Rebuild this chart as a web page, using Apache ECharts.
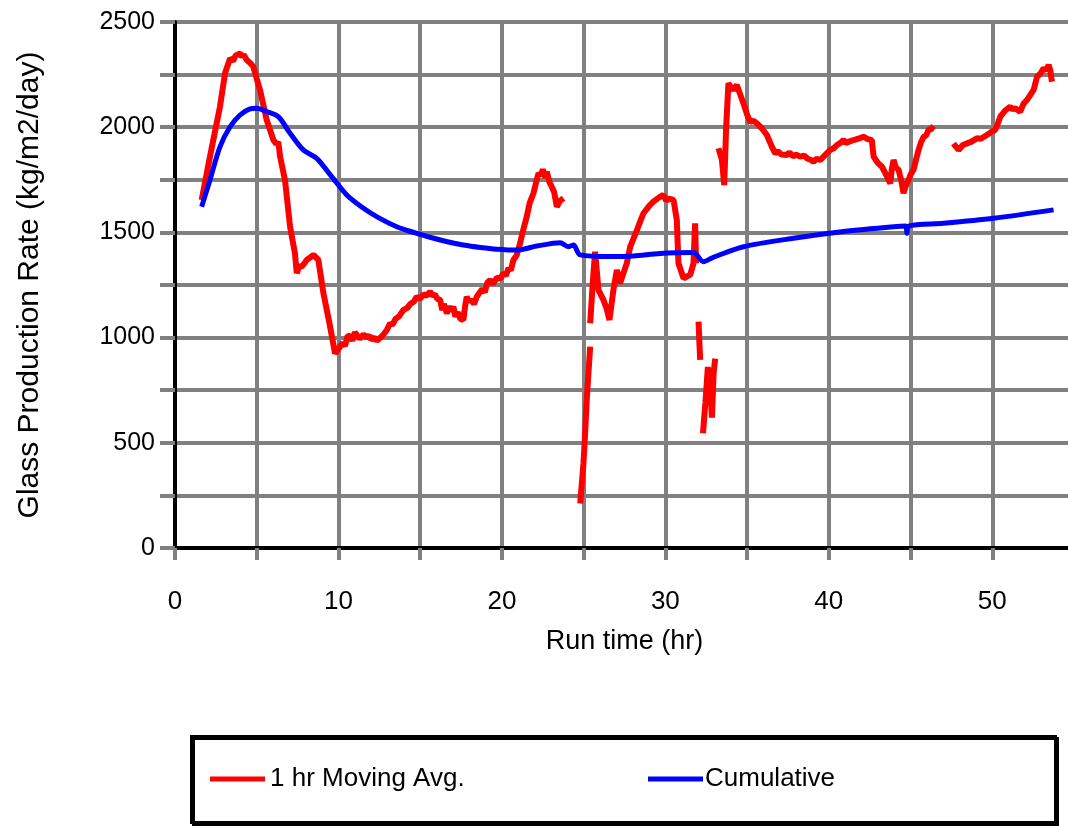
<!DOCTYPE html>
<html>
<head>
<meta charset="utf-8">
<script src="https://cdn.jsdelivr.net/npm/echarts@6/dist/echarts.min.js"></script>
<style>
  html, body { margin: 0; padding: 0; background: #ffffff; overflow: hidden; }
  #chart { width: 1068px; height: 826px; }
</style>
</head>
<body>
<div id="chart"></div>
<script>
// Run time (hr) vs glass production rate (kg/m2/day)
const xTickLabels = [0, 10, 20, 30, 40, 50];
const yTickLabels = [0, 500, 1000, 1500, 2000, 2500];

// 1 hr moving average, recorded in separate stretches
const movingAvgA = [
  [1.63, 1654], [2.14, 1860], [2.75, 2097], [3.06, 2256], [3.37, 2327], [3.55, 2315],
  [3.7, 2340], [3.98, 2351], [4.1, 2335], [4.2, 2345], [4.39, 2319], [4.6, 2305],
  [4.79, 2288], [5.2, 2177], [5.61, 2034], [6.02, 1939], [6.2, 1920], [6.32, 1930],
  [6.43, 1860], [6.73, 1749], [7.04, 1527], [7.34, 1400], [7.45, 1306], [7.6, 1340],
  [7.75, 1337], [8.06, 1369], [8.25, 1380], [8.47, 1393], [8.77, 1369], [9.08, 1211],
  [9.49, 1052], [9.79, 925], [9.9, 930], [10.1, 957], [10.25, 975], [10.4, 960],
  [10.55, 1005], [10.71, 1010], [10.85, 985], [11.0, 1025], [11.12, 1020], [11.3, 995],
  [11.53, 1015], [11.73, 1000], [11.9, 1010], [12.0, 990], [12.2, 1000], [12.34, 985],
  [12.5, 995], [12.7, 1010], [12.96, 1036], [13.16, 1068], [13.3, 1060], [13.5, 1090],
  [13.7, 1100], [13.97, 1131], [14.2, 1140], [14.4, 1160], [14.6, 1170], [14.79, 1194],
  [15.0, 1185], [15.2, 1205], [15.4, 1200], [15.6, 1218], [15.75, 1200], [15.9, 1205],
  [16.05, 1185], [16.22, 1179], [16.35, 1130], [16.45, 1160], [16.63, 1115], [16.8, 1150],
  [16.9, 1125], [17.03, 1147], [17.15, 1100], [17.3, 1120], [17.45, 1090], [17.64, 1084],
  [17.75, 1150], [17.85, 1194], [18.0, 1170], [18.1, 1180], [18.3, 1160], [18.46, 1194],
  [18.6, 1210], [18.8, 1230], [18.95, 1215], [19.1, 1260], [19.28, 1274], [19.45, 1255],
  [19.7, 1285], [19.9, 1280], [20.09, 1306], [20.25, 1295], [20.4, 1330], [20.55, 1320],
  [20.7, 1369], [20.9, 1390], [21.11, 1448], [21.3, 1510], [21.52, 1575], [21.7, 1640],
  [21.93, 1686], [22.1, 1740], [22.24, 1781], [22.4, 1770], [22.5, 1800], [22.65, 1760],
  [22.75, 1789], [22.9, 1740], [23.05, 1717], [23.2, 1690], [23.36, 1622], [23.55, 1650],
  [23.77, 1662]
];
const movingAvgB = [
  [24.79, 212], [24.99, 403], [25.1, 560], [25.2, 719], [25.4, 957]
];
const movingAvgC = [
  [25.4, 1068], [25.55, 1250], [25.7, 1408], [25.91, 1226], [26.21, 1179], [26.4, 1140],
  [26.58, 1084], [26.82, 1226], [27.03, 1321], [27.23, 1258], [27.45, 1310], [27.64, 1353],
  [27.85, 1432], [28.05, 1470], [28.26, 1511], [28.45, 1550], [28.66, 1591], [29.0, 1625],
  [29.27, 1646], [29.6, 1665], [29.88, 1678], [30.05, 1650], [30.2, 1660], [30.5, 1654],
  [30.7, 1559], [30.8, 1353], [31.11, 1282], [31.3, 1290], [31.52, 1298], [31.72, 1353],
  [31.82, 1543], [31.88, 1353]
];
const movingAvgD = [
  [32.03, 1076], [32.08, 980], [32.13, 894]
];
const movingAvgE = [
  [32.3, 545], [32.45, 690], [32.6, 860], [32.75, 760], [32.85, 620], [32.95, 830], [33.05, 900]
];
const movingAvgF = [
  [33.25, 1900], [33.46, 1844], [33.6, 1725], [33.72, 2002], [33.86, 2209], [34.0, 2190],
  [34.17, 2177], [34.37, 2201], [34.78, 2113], [35.0, 2060], [35.19, 2026], [35.4, 2030],
  [35.6, 2018], [35.9, 1995], [36.21, 1963], [36.5, 1910], [36.72, 1876], [36.9, 1885],
  [37.1, 1870], [37.43, 1868], [37.6, 1880], [37.8, 1862], [38.0, 1870], [38.25, 1860],
  [38.5, 1865], [38.7, 1850], [38.9, 1845], [39.06, 1836], [39.25, 1850], [39.47, 1844],
  [39.8, 1870], [40.09, 1892], [40.3, 1900], [40.5, 1915], [40.7, 1925], [40.9, 1939],
  [41.05, 1925], [41.2, 1930], [41.51, 1939], [41.8, 1945], [42.12, 1955], [42.35, 1945],
  [42.63, 1939], [42.74, 1860], [43.0, 1830], [43.25, 1812], [43.4, 1790], [43.56, 1765],
  [43.76, 1733], [43.85, 1800], [43.96, 1844], [44.1, 1810], [44.27, 1797], [44.45, 1740],
  [44.57, 1686], [44.7, 1720], [44.88, 1749], [45.0, 1775], [45.18, 1797], [45.35, 1850],
  [45.49, 1892], [45.65, 1930], [45.8, 1955], [45.95, 1960], [46.1, 1987], [46.25, 1990],
  [46.41, 2006]
];
const movingAvgG = [
  [47.63, 1923], [47.8, 1905], [47.94, 1892], [48.2, 1915], [48.45, 1923], [48.7, 1930],
  [49.06, 1947], [49.3, 1945], [49.67, 1963], [49.9, 1975], [50.18, 1987], [50.35, 2020],
  [50.49, 2050], [50.8, 2080], [51.1, 2097], [51.25, 2085], [51.4, 2090], [51.71, 2074],
  [51.9, 2110], [52.12, 2129], [52.3, 2150], [52.53, 2177], [52.74, 2240], [52.95, 2255],
  [53.14, 2280], [53.3, 2270], [53.45, 2296], [53.55, 2270], [53.65, 2216]
];

// Cumulative production rate
const cumulative = [
  [1.63, 1622], [2.14, 1749], [2.75, 1907], [3.37, 2002], [3.98, 2058], [4.59, 2087],
  [5.0, 2090], [5.61, 2074], [6.32, 2050], [7.04, 1971], [7.85, 1892], [8.67, 1852],
  [9.49, 1775], [10.51, 1678], [11.53, 1615], [12.5, 1568], [13.57, 1527], [14.6, 1500],
  [15.6, 1477], [16.6, 1457], [17.64, 1440], [18.7, 1428], [19.69, 1420], [20.91, 1416],
  [22.13, 1435], [23.56, 1451], [24.07, 1432], [24.38, 1440], [24.79, 1393], [26.62, 1385],
  [28.05, 1388], [29.68, 1400], [31.72, 1404], [32.33, 1361], [32.94, 1382], [34.78, 1432],
  [37.84, 1472], [40.9, 1504], [43.96, 1527], [44.7, 1530], [44.78, 1496], [44.88, 1530],
  [47.02, 1543], [50.08, 1567], [53.75, 1607]
];

const GAP = '-';
function joinSegments(segs) {
  const out = [];
  segs.forEach((s, i) => {
    if (i > 0) out.push([(segs[i - 1][segs[i - 1].length - 1][0] + s[0][0]) / 2, GAP]);
    s.forEach(p => out.push(p));
  });
  return out;
}
const movingAvg = joinSegments([movingAvgA, movingAvgB, movingAvgC, movingAvgD, movingAvgE, movingAvgF, movingAvgG]);

const FONT = '"Liberation Sans", Arial, sans-serif';
const GRID_GRAY = '#808080';

const chart = echarts.init(document.getElementById('chart'), null, { renderer: 'canvas' });
chart.setOption({
  backgroundColor: '#ffffff',
  animation: false,
  grid: {
    left: 175, top: 22, width: 899, height: 526,
    outerBoundsMode: 'none', containLabel: false,
    show: true, borderColor: '#000000', borderWidth: 4, backgroundColor: 'transparent'
  },
  xAxis: {
    type: 'value', min: 0, max: 55, interval: 5,
    name: 'Run time (hr)', nameLocation: 'middle', nameGap: 80,
    nameTextStyle: { fontFamily: FONT, fontSize: 27, color: '#000' },
    axisLine: { show: true, lineStyle: { color: '#000', width: 4 } },
    axisTick: { show: true, inside: false, length: 12, lineStyle: { color: GRID_GRAY, width: 4 } },
    axisLabel: {
      margin: 41, fontFamily: FONT, fontSize: 26, color: '#000',
      formatter: v => (xTickLabels.indexOf(v) >= 0 ? String(v) : '')
    },
    splitLine: { show: true, lineStyle: { color: GRID_GRAY, width: 4 } }
  },
  yAxis: {
    type: 'value', min: 0, max: 2500, interval: 250,
    name: 'Glass Production Rate (kg/m2/day)', nameLocation: 'middle', nameGap: 130,
    nameTextStyle: { fontFamily: FONT, fontSize: 30, color: '#000' },
    axisLine: { show: true, lineStyle: { color: '#000', width: 4 } },
    axisTick: { show: true, inside: false, length: 15, lineStyle: { color: GRID_GRAY, width: 4 } },
    axisLabel: {
      margin: 20, fontFamily: FONT, fontSize: 25, color: '#000',
      formatter: v => (yTickLabels.indexOf(v) >= 0 ? String(v) : '')
    },
    splitLine: { show: true, lineStyle: { color: GRID_GRAY, width: 4 } }
  },
  legend: [
    {
      data: ['1 hr Moving Avg.'], left: 205, top: 761, icon: 'rect',
      itemWidth: 55, itemHeight: 5, itemGap: 0,
      textStyle: { fontFamily: FONT, fontSize: 26, color: '#000', padding: [0, 0, 0, 0] }
    },
    {
      data: ['Cumulative'], left: 643, top: 761, icon: 'rect',
      itemWidth: 55, itemHeight: 5, itemGap: 0,
      textStyle: { fontFamily: FONT, fontSize: 26, color: '#000', padding: [0, 0, 0, -3] }
    }
  ],
  graphic: [
    {
      type: 'rect', left: 190, top: 735, z: -1,
      shape: { width: 864, height: 86 },
      style: { fill: '#ffffff', stroke: '#000000', lineWidth: 3, shadowColor: '#000000', shadowOffsetX: 2, shadowOffsetY: 2, shadowBlur: 0 }
    }
  ],
  series: [
    {
      name: '1 hr Moving Avg.', type: 'line', data: movingAvg, showSymbol: false, symbol: 'none',
      connectNulls: false, lineStyle: { color: '#ff0000', width: 6 }, itemStyle: { color: '#ff0000' }, z: 3
    },
    {
      name: 'Cumulative', type: 'line', data: cumulative, showSymbol: false, symbol: 'none', smooth: 0.3,
      lineStyle: { color: '#0000ff', width: 5 }, itemStyle: { color: '#0000ff' }, z: 4
    }
  ]
});
</script>
</body>
</html>
